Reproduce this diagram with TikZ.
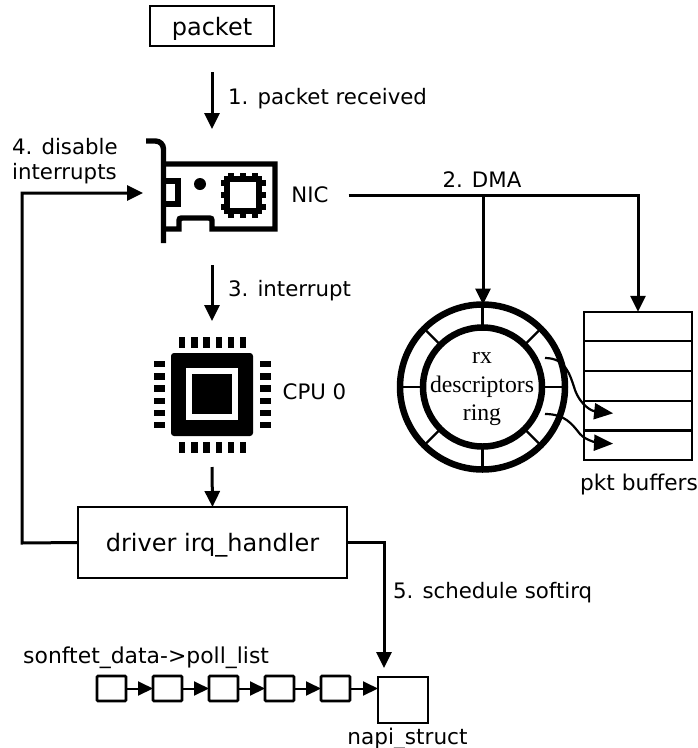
\documentclass[tikz,border=0pt]{standalone}
\usepackage{fontspec}
\setmainfont{DejaVu Sans}
\newfontfamily\ringfont{Liberation Serif}
\usetikzlibrary{arrows.meta}

\begin{document}
\begin{tikzpicture}[
  x=1pt,
  y=-1pt,
  wire/.style={line width=3pt},
  flow/.style={wire, -{Triangle[length=16pt,width=15pt]}},
  listFlow/.style={line width=2pt, -{Triangle[length=15pt,width=14pt]}},
  slotFlow/.style={line width=2.2pt, -{Triangle[length=19pt,width=16pt]}},
  box/.style={draw, line width=1.7pt, inner sep=0pt, outer sep=0pt, text depth=0pt, font=\fontsize{24}{28}\selectfont},
  hollow/.style={inner sep=0pt, outer sep=0pt},
  tag/.style={inner sep=0pt, text depth=0pt, font=\fontsize{21.3}{26}\selectfont},
  stepTag/.style={tag, anchor=west, align=left},
  listBox/.style={draw, line width=2.8pt, inner sep=0pt, outer sep=0pt, minimum width=29pt, minimum height=25pt, rounded corners=1pt},
  buffer/.style={draw, line width=1.6pt, inner sep=0pt, outer sep=0pt, minimum width=108pt, minimum height=29.5pt},
  iconLine/.style={line width=5.4pt}
]
  \useasboundingbox (0,0) rectangle (698,748);

  \node[box, minimum width=124pt, minimum height=40pt] (packet) at (212,26) {packet};
  \node[hollow, minimum width=138pt, minimum height=136pt] (nic) at (212,197) {};
  \node[hollow, minimum width=120pt, minimum height=146pt] (cpu) at (212,394) {};
  \node[box, minimum width=269pt, minimum height=71pt] (driver) at (212.5,542.5) {driver irq\_handler};

  % network card
  \draw[iconLine, rounded corners=8pt] (146,141) -- (163.5,141) -- (163.5,243);
  \draw[iconLine] (163,164) -- (275,164) -- (275,229) -- (212,229) -- (212,223) .. controls (212,218) .. (207,218) -- (184,218) .. controls (179,218) .. (179,223) -- (179,229) -- (163,229);
  \draw[iconLine] (163,181) -- (178,181) -- (178,204) -- (163,204);
  \fill (200,184) circle (6);
  \draw[iconLine] (227,179) rectangle (259,211);
  \foreach \d in {-12,0,12} {
    \draw[line width=6pt] (243+\d,173) -- (243+\d,179);
    \draw[line width=6pt] (243+\d,211) -- (243+\d,218);
    \draw[line width=6pt] (221,195+\d) -- (227,195+\d);
    \draw[line width=6pt] (259,195+\d) -- (266,195+\d);
  }

  % processor
  \fill[rounded corners=3pt] (171,353) rectangle (253,436);
  \fill[white] (186,368) rectangle (238,420);
  \fill (192,374) rectangle (232,414);
  \foreach \d in {0,...,5} {
    \fill (179+12.2*\d,337) rectangle ++(6.4,11);
    \fill (179+12.2*\d,442) rectangle ++(6.4,11);
    \fill (154,361+12.2*\d) rectangle ++(11,6.4);
    \fill (259.5,361+12.2*\d) rectangle ++(11,6.4);
  }

  \node[tag] (nicTag) at (310,195) {NIC};
  \node[tag] (cpuTag) at (314.5,392) {CPU 0};
  \node[stepTag] at (228,96) {1. packet received};
  \node[tag] at (482,180) {2. DMA};
  \node[stepTag] at (228,288) {3. interrupt};
  \node[stepTag] at (12,159) {4. disable\\[-1pt]interrupts};
  \node[stepTag] at (393,590) {5. schedule softirq};

  \node[draw, circle, line width=6.5pt, inner sep=0pt, outer sep=0pt, minimum size=165pt] (ring) at (482.5,387) {};
  \node[draw, circle, line width=6.5pt, fill=white, inner sep=0pt, outer sep=0pt, minimum size=119pt] (ringCore) at (482.5,387) {};
  \foreach \a in {0,45,...,315} {
    \draw[line width=2.4pt] (ringCore.\a) -- (ring.\a);
  }
  \node[align=center, inner sep=0pt, font=\ringfont\fontsize{23.7}{28.5}\selectfont] at (482,389) {rx\\descriptors\\ring};

  \foreach \n/\y in {1/326.5,2/356,3/386,4/416,5/445} {
    \node[buffer] (buf\n) at (638,\y) {};
  }
  \node[tag, font=\fontsize{21.7}{26}\selectfont] at (639,482) {pkt buffers};

  \coordinate (dmaJoin) at (483,195);
  \coordinate (railLow) at (22,543);
  \coordinate (railHigh) at (22,193);
  \coordinate (napiTop) at (384,668);
  \coordinate (slotA) at (545,358);
  \coordinate (slotB) at (545,414);

  \draw[flow, shorten <=26pt] (packet.south) -- (nic.north);
  \draw[wire, shorten <=20pt] (nicTag.east) -- (dmaJoin);
  \draw[flow] (dmaJoin) -- (ring.north -| dmaJoin);
  \draw[flow] (dmaJoin) -| (buf1.north);
  \draw[flow] (nic.south) -- (cpu.north);
  \draw[flow] (cpu.south) -- (driver.north);
  \draw[flow] (driver.west) -- (railLow) -- (railHigh) -- (railHigh -| nic.west);
  \draw[flow] (driver.east) -| (napiTop);
  \draw[slotFlow, shorten >=25pt] (slotA) .. controls (566,358) and (570,375) .. (575,390) .. controls (581,406) and (592,411) .. (buf4.center);
  \draw[slotFlow, shorten >=25pt] (slotB) .. controls (565,414) and (572,424) .. (580,434) .. controls (586,441) and (600,443) .. (buf5.center);

  \node[tag, anchor=west, font=\fontsize{21.9}{26}\selectfont] at (23,655) {sonftet\_data->poll\_list};
  \foreach \n/\x in {1/111.5,2/167.5,3/223.5,4/279.5,5/335.5} {
    \node[listBox] (item\n) at (\x,688.5) {};
  }
  \node[draw, line width=2.8pt, inner sep=0pt, outer sep=0pt, minimum width=50pt, minimum height=46pt] (napi) at (403,700) {};
  \node[tag, font=\fontsize{21.6}{26}\selectfont] at (407.5,736) {napi\_struct};
  \foreach \a/\b in {1/2,2/3,3/4,4/5} {
    \draw[listFlow] (item\a) -- (item\b);
  }
  \draw[listFlow] (item5) -- (item5 -| napi.west);
\end{tikzpicture}
\end{document}
